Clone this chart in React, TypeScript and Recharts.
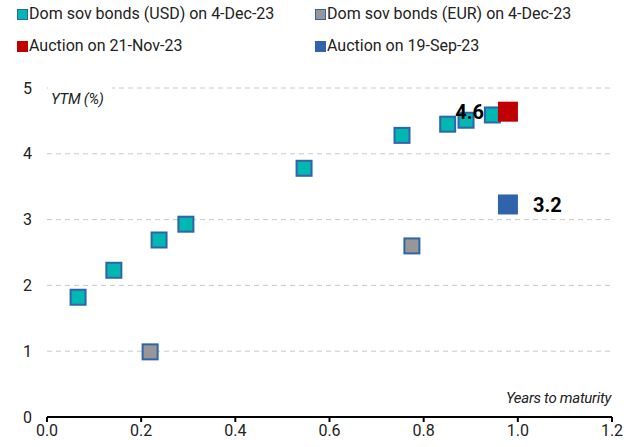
import React from "react"
import { ScatterChart, Scatter, XAxis, YAxis, CartesianGrid } from "recharts"

const usdMaturity = [0.066, 0.142, 0.238, 0.295, 0.546, 0.754, 0.851, 0.89, 0.946]
const usdYield = [1.82, 2.23, 2.69, 2.93, 3.78, 4.28, 4.45, 4.51, 4.59]
const eurMaturity = [0.219, 0.775]
const eurYield = [0.99, 2.6]
const novMaturity = [0.979]
const novYield = [4.64]
const sepMaturity = [0.979]
const sepYield = [3.23]

const xTicks = [0, 0.2, 0.4, 0.6, 0.8, 1.0, 1.2]
const yTicks = [0, 1, 2, 3, 4, 5]

const LEGEND = [
  { name: "Dom sov bonds (USD) on 4-Dec-23", fill: "#00b7b1", stroke: "#2f64ad" },
  { name: "Dom sov bonds (EUR) on 4-Dec-23", fill: "#979797", stroke: "#2f64ad" },
  { name: "Auction on 21-Nov-23", fill: "#c00000", stroke: "#c00000" },
  { name: "Auction on 19-Sep-23", fill: "#2f64ad", stroke: "#2f64ad" },
]

const FONT = "Roboto, 'Liberation Sans', sans-serif"

const toPoints = (xs: number[], ys: number[]) => xs.map((x, i) => ({ x, y: ys[i] }))

const usdData = toPoints(usdMaturity, usdYield)
const eurData = toPoints(eurMaturity, eurYield)
const novData = toPoints(novMaturity, novYield)
const sepData = toPoints(sepMaturity, sepYield)

const borderedSquare = (fill: string) => (p: any) => (
  <rect x={p.cx - 7.5} y={p.cy - 7.5} width={15} height={15} fill={fill} stroke="#2f64ad" strokeWidth={2} />
)

const auctionSquare = (fill: string, side: "left" | "right") => (p: any) => (
  <g>
    <rect x={p.cx - 10} y={p.cy - 10} width={20} height={20} fill={fill} />
    <text
      x={side === "left" ? p.cx - 24 : p.cx + 25}
      y={p.cy}
      dy="0.36em"
      textAnchor={side === "left" ? "end" : "start"}
      fontFamily={FONT}
      fontWeight="bold"
      fontSize={20}
      fill="#000"
    >
      {p.payload.y.toFixed(1)}
    </text>
  </g>
)

export default function App() {
  return (
    <div style={{ position: "absolute", left: 0, top: 0, width: 635, height: 447, background: "#fff", fontFamily: FONT }}>
      {LEGEND.map((item, i) => (
        <div
          key={i}
          style={{
            position: "absolute",
            left: i % 2 === 0 ? 17 : 315,
            top: i < 2 ? 3 : 35,
            display: "flex",
            alignItems: "center",
            fontSize: 16,
            color: "#222",
            lineHeight: "22px",
            whiteSpace: "nowrap",
          }}
        >
          <span
            style={{
              display: "inline-block",
              width: 9,
              height: 9,
              background: item.fill,
              border: `1.5px solid ${item.stroke}`,
              marginRight: 1,
            }}
          />
          {item.name}
        </div>
      ))}
      <div style={{ position: "absolute", left: 0, top: 0 }}>
        <ScatterChart width={635} height={447} margin={{ top: 88, right: 23, bottom: 0, left: 0 }}>
          <CartesianGrid horizontal vertical={false} stroke="#c8c8c8" strokeDasharray="5 4" />
          <XAxis
            type="number"
            dataKey="x"
            domain={[0, 1.2]}
            ticks={xTicks}
            tickFormatter={(v: number) => v.toFixed(1)}
            height={30}
            axisLine={{ stroke: "#000", strokeWidth: 2 }}
            tickLine={{ stroke: "#000", strokeWidth: 2 }}
            tickSize={5}
            tickMargin={3}
            tick={{ fill: "#222", fontSize: 16, fontFamily: FONT }}
            label={{
              content: () => (
                <text x={611} y={403} textAnchor="end" fontStyle="italic" fontSize={15} letterSpacing={-0.3} fontFamily={FONT} fill="#222">
                  Years to maturity
                </text>
              ),
            }}
          />
          <YAxis
            type="number"
            dataKey="y"
            domain={[0, 5]}
            ticks={yTicks}
            width={47}
            axisLine={false}
            tickLine={false}
            tickSize={0}
            tickMargin={15}
            tick={{ fill: "#222", fontSize: 16, fontFamily: FONT }}
            label={{
              content: () => (
                <g>
                  <rect x={48} y={80} width={64} height={22} fill="#fff" />
                  <text x={51} y={104} fontStyle="italic" fontSize={15} letterSpacing={-0.3} fontFamily={FONT} fill="#222">
                    YTM (%)
                  </text>
                </g>
              ),
            }}
          />
          <Scatter data={usdData} isAnimationActive={false} shape={borderedSquare("#00b7b1")} />
          <Scatter data={eurData} isAnimationActive={false} shape={borderedSquare("#979797")} />
          <Scatter data={sepData} isAnimationActive={false} shape={auctionSquare("#2f64ad", "right")} />
          <Scatter data={novData} isAnimationActive={false} shape={auctionSquare("#c00000", "left")} />
        </ScatterChart>
      </div>
    </div>
  )
}
